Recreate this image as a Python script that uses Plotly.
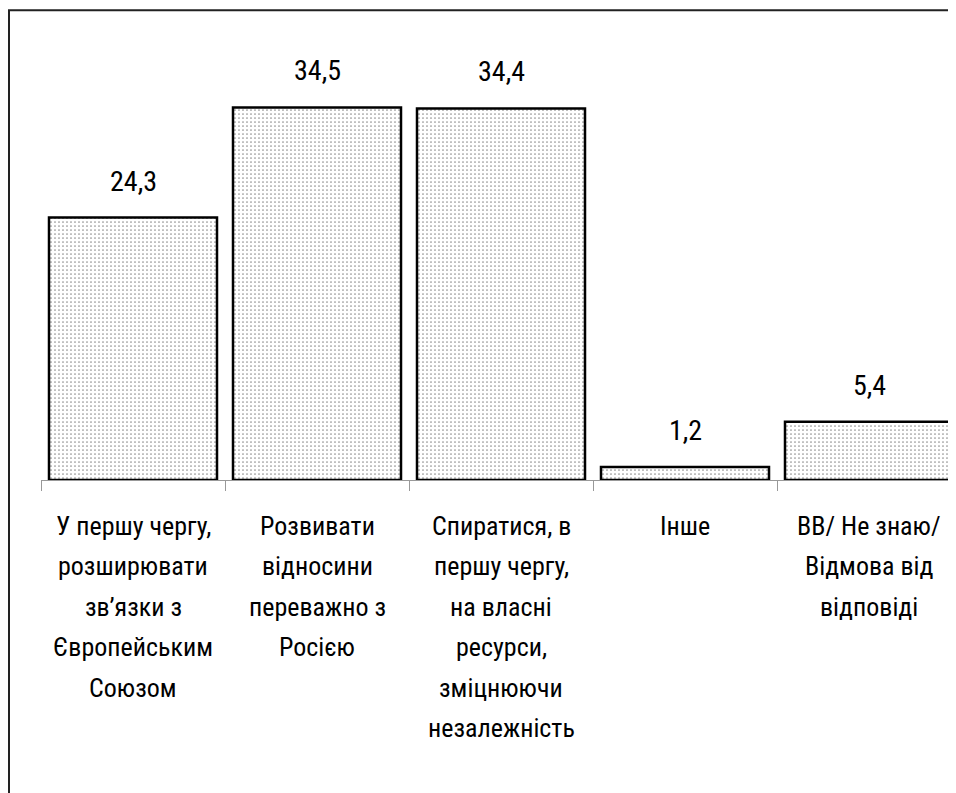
import plotly.graph_objects as go

categories = [
    "У першу чергу,\nрозширювати\nзв’язки з\nЄвропейським\nСоюзом",
    "Розвивати\nвідносини\nпереважно з\nРосією",
    "Спиратися, в\nпершу чергу,\nна власні\nресурси,\nзміцнюючи\nнезалежність",
    "Інше",
    "ВВ/ Не знаю/\nВідмова від\nвідповіді",
]
values = [24.3, 34.5, 34.4, 1.2, 5.4]
value_labels = ["24,3", "34,5", "34,4", "1,2", "5,4"]

# page body adds an 8px margin, so the figure starts at (8, 8) in the window
OFF = 8
W, H = 956 - OFF, 793 - OFF
FONT = "Roboto Condensed, Liberation Sans Narrow, Liberation Sans, sans-serif"

x_keys = [c.replace("\n", " ") for c in categories]

fig = go.Figure()
fig.add_trace(go.Bar(
    x=x_keys, y=values,
    marker=dict(
        color="white",
        line=dict(color="black", width=2.5),
        pattern=dict(shape=".", fgcolor="#222222", bgcolor="white", size=4, solidity=0.15),
    ),
    hoverinfo="skip",
))

axis_bottom_px = 480 - OFF
plot_top_px = 48 - OFF
y_max = 40
cat_w = 184
left_px = 41 - OFF

annotations = []
for k, v, t in zip(x_keys, values, value_labels):
    annotations.append(dict(
        x=k, y=v, xref="x", yref="y", text=t, showarrow=False,
        yanchor="bottom", yshift=18,
        font=dict(family=FONT, size=28, color="black"),
    ))

line_gap = 40.5
first_center = 525.5 - OFF
for k, c in zip(x_keys, categories):
    for i, line in enumerate(c.split("\n")):
        ypx = first_center + i * line_gap
        annotations.append(dict(
            x=k, y=1 - ypx / H, xref="x", yref="paper", text=line, showarrow=False,
            yanchor="middle", xanchor="center",
            font=dict(family=FONT, size=26, color="black"),
        ))

fig.update_layout(
    width=W, height=H,
    margin=dict(l=0, r=0, t=0, b=0),
    paper_bgcolor="white", plot_bgcolor="white",
    showlegend=False,
    bargap=16 / 184,
    xaxis=dict(
        domain=[left_px / W, 1],
        type="category",
        range=[-0.5, -0.5 + (W - left_px) / cat_w],
        showgrid=False, zeroline=False,
        showline=True, linecolor="#999999", linewidth=1.2,
        ticks="outside", tickson="boundaries", ticklen=10, tickcolor="#999999", tickwidth=1.2,
        showticklabels=False,
    ),
    yaxis=dict(
        domain=[1 - axis_bottom_px / H, 1 - plot_top_px / H],
        range=[0, y_max],
        showgrid=False, zeroline=False, showline=False, showticklabels=False, ticks="",
    ),
    annotations=annotations,
    shapes=[dict(
        type="rect", xref="paper", yref="paper",
        x0=1 / W, x1=1.05, y0=-0.05, y1=1 - 2.2 / H,
        line=dict(color="#222222", width=2), fillcolor="rgba(0,0,0,0)", layer="above",
    )],
)

fig.write_html("out.html")
